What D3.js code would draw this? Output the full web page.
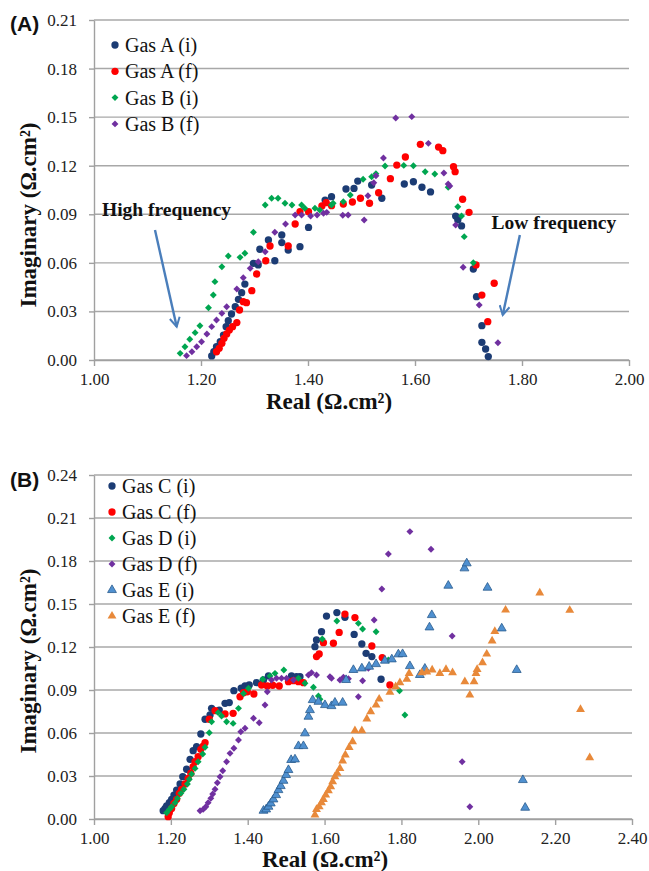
<!DOCTYPE html>
<html>
<head>
<meta charset="utf-8">
<script src="https://cdn.jsdelivr.net/npm/d3@7"></script>
<style>
  body { margin: 0; background: #fff; }
  svg { display: block; }
</style>
</head>
<body>
<svg id="chart" width="649" height="871"></svg>
<script>
// ---- data ----
// panel A
const xTicksA = [1.0, 1.2, 1.4, 1.6, 1.8, 2.0];
const yTicksA = [0, 0.03, 0.06, 0.09, 0.12, 0.15, 0.18, 0.21];

const gasAi = [[1.220,0.0025],[1.224,0.0051],[1.229,0.0082],[1.236,0.0113],[1.242,0.0154],[1.247,0.0206],[1.251,0.0243],[1.257,0.0284],[1.264,0.0329],[1.270,0.0375],[1.276,0.0416],[1.282,0.0469],[1.298,0.0597],[1.307,0.0587],[1.310,0.0684],[1.326,0.0741],[1.338,0.0613],[1.351,0.0772],[1.351,0.0725],[1.363,0.0679],[1.385,0.0700],[1.401,0.0819],[1.432,0.0988],[1.444,0.1009],[1.471,0.1056],[1.486,0.1060],[1.493,0.1105],[1.519,0.1081],[1.538,0.0999],[1.580,0.1087],[1.597,0.1101],[1.613,0.1067],[1.629,0.1038],[1.676,0.0889],[1.680,0.0865],[1.687,0.0828],[1.709,0.0562],[1.715,0.0391],[1.725,0.0212],[1.725,0.0109],[1.732,0.0068],[1.737,0.0021]];
const gasAf = [[1.229,0.0051],[1.234,0.0072],[1.239,0.0103],[1.243,0.0134],[1.248,0.0161],[1.253,0.0185],[1.259,0.0206],[1.267,0.0231],[1.272,0.0309],[1.279,0.0360],[1.285,0.0354],[1.295,0.0428],[1.304,0.0531],[1.321,0.0613],[1.329,0.0704],[1.363,0.0704],[1.376,0.0840],[1.385,0.0916],[1.401,0.0916],[1.426,0.0951],[1.434,0.0972],[1.444,0.0953],[1.466,0.0963],[1.483,0.0976],[1.498,0.0999],[1.515,0.0968],[1.532,0.1033],[1.554,0.1120],[1.566,0.1204],[1.582,0.1254],[1.610,0.1332],[1.644,0.1315],[1.652,0.1293],[1.672,0.1194],[1.675,0.1163],[1.689,0.0993],[1.701,0.0912],[1.714,0.0587],[1.725,0.0401],[1.748,0.0474],[1.736,0.0237]];
const gasBi = [[1.161,0.0041],[1.170,0.0082],[1.179,0.0128],[1.189,0.0169],[1.198,0.0212],[1.214,0.0323],[1.223,0.0401],[1.226,0.0484],[1.239,0.0576],[1.251,0.0642],[1.273,0.0634],[1.282,0.0659],[1.298,0.0789],[1.320,0.0957],[1.332,0.0999],[1.344,0.0999],[1.357,0.0968],[1.370,0.0957],[1.388,0.0957],[1.394,0.0937],[1.413,0.0937],[1.422,0.0926],[1.444,0.0957],[1.447,0.0968],[1.466,0.0978],[1.479,0.1019],[1.503,0.1116],[1.519,0.1132],[1.527,0.1151],[1.544,0.1198],[1.579,0.1202],[1.597,0.1200],[1.619,0.1163],[1.637,0.1149],[1.662,0.1067],[1.680,0.0947],[1.687,0.0889],[1.692,0.0762],[1.709,0.0601]];
const gasBf = [[1.173,0.0027],[1.183,0.0051],[1.192,0.0082],[1.201,0.0113],[1.211,0.0161],[1.220,0.0206],[1.229,0.0247],[1.239,0.0288],[1.248,0.0329],[1.267,0.0438],[1.279,0.0508],[1.292,0.0566],[1.307,0.0607],[1.320,0.0669],[1.338,0.0789],[1.358,0.0840],[1.376,0.0896],[1.388,0.0896],[1.405,0.0889],[1.417,0.0896],[1.429,0.0906],[1.435,0.0912],[1.465,0.0894],[1.475,0.0896],[1.505,0.0865],[1.512,0.1015],[1.523,0.1095],[1.527,0.1138],[1.541,0.1248],[1.564,0.1495],[1.594,0.1503],[1.625,0.1338],[1.654,0.1155],[1.662,0.1087],[1.665,0.1075],[1.676,0.0834],[1.690,0.0573],[1.720,0.0340],[1.755,0.0107]];

// panel B
const xTicksB = [1.0, 1.2, 1.4, 1.6, 1.8, 2.0, 2.2, 2.4];
const yTicksB = [0, 0.03, 0.06, 0.09, 0.12, 0.15, 0.18, 0.21, 0.24];

const gasCi = [[1.180,0.0058],[1.185,0.0074],[1.189,0.0091],[1.196,0.0114],[1.202,0.0137],[1.208,0.0167],[1.215,0.0202],[1.224,0.0244],[1.231,0.0295],[1.241,0.0347],[1.250,0.0416],[1.258,0.0477],[1.267,0.0505],[1.278,0.0593],[1.289,0.0696],[1.302,0.0726],[1.306,0.0772],[1.326,0.0760],[1.341,0.0807],[1.352,0.0812],[1.364,0.0895],[1.383,0.0912],[1.393,0.0928],[1.404,0.0935],[1.423,0.0951],[1.441,0.0970],[1.454,0.0998],[1.514,0.0998],[1.527,0.0993],[1.536,0.0993],[1.575,0.1202],[1.579,0.1249],[1.592,0.1307],[1.605,0.1416],[1.632,0.1440],[1.653,0.1407],[1.677,0.1288],[1.697,0.1221],[1.708,0.1156],[1.723,0.1133],[1.747,0.0975]];
const gasCf = [[1.193,0.0016],[1.196,0.0044],[1.202,0.0074],[1.208,0.0109],[1.215,0.0137],[1.222,0.0179],[1.228,0.0207],[1.237,0.0244],[1.245,0.0284],[1.252,0.0319],[1.258,0.0365],[1.263,0.0400],[1.271,0.0435],[1.278,0.0486],[1.284,0.0509],[1.289,0.0532],[1.300,0.0696],[1.315,0.0756],[1.341,0.0733],[1.362,0.0737],[1.380,0.0853],[1.389,0.0881],[1.399,0.0888],[1.416,0.0872],[1.436,0.0935],[1.451,0.0928],[1.465,0.0933],[1.482,0.0928],[1.506,0.0958],[1.519,0.0965],[1.532,0.0958],[1.545,0.0951],[1.579,0.1133],[1.586,0.1151],[1.597,0.1230],[1.623,0.1226],[1.638,0.1302],[1.653,0.1430],[1.679,0.1405],[1.723,0.1207],[1.750,0.1126],[1.770,0.0935]];
const gasDi = [[1.189,0.0044],[1.196,0.0067],[1.202,0.0086],[1.211,0.0114],[1.217,0.0144],[1.226,0.0179],[1.234,0.0207],[1.243,0.0244],[1.248,0.0277],[1.254,0.0314],[1.263,0.0353],[1.271,0.0400],[1.283,0.0454],[1.289,0.0500],[1.300,0.0602],[1.306,0.0679],[1.323,0.0742],[1.332,0.0719],[1.345,0.0679],[1.362,0.0667],[1.376,0.0772],[1.389,0.0876],[1.402,0.0912],[1.439,0.0975],[1.458,0.0998],[1.471,0.1016],[1.494,0.1040],[1.532,0.0982],[1.549,0.0947],[1.571,0.0919],[1.584,0.0858],[1.588,0.0835],[1.594,0.1256],[1.632,0.1381],[1.688,0.1365],[1.699,0.1326],[1.734,0.1307],[1.766,0.1109],[1.795,0.0895],[1.809,0.0726]];
const gasDf = [[1.276,0.0058],[1.284,0.0067],[1.291,0.0086],[1.297,0.0114],[1.304,0.0144],[1.309,0.0174],[1.315,0.0207],[1.321,0.0253],[1.328,0.0295],[1.335,0.0337],[1.345,0.0400],[1.354,0.0458],[1.364,0.0493],[1.376,0.0551],[1.382,0.0609],[1.393,0.0633],[1.415,0.0703],[1.430,0.0672],[1.445,0.0795],[1.451,0.0888],[1.462,0.0970],[1.475,0.0982],[1.488,0.0982],[1.501,0.0982],[1.519,0.0970],[1.558,0.1005],[1.566,0.1021],[1.579,0.1005],[1.614,0.0993],[1.618,0.0982],[1.640,0.0970],[1.649,0.0989],[1.662,0.0979],[1.688,0.0853],[1.699,0.0965],[1.714,0.1051],[1.729,0.1388],[1.749,0.1605],[1.766,0.1849],[1.822,0.2005],[1.877,0.1882],[1.932,0.1277],[1.958,0.0400],[1.978,0.0086]];
const gasEi = [[1.441,0.0058],[1.448,0.0067],[1.454,0.0086],[1.460,0.0109],[1.467,0.0137],[1.474,0.0167],[1.480,0.0202],[1.486,0.0230],[1.493,0.0267],[1.500,0.0307],[1.506,0.0342],[1.513,0.0412],[1.523,0.0416],[1.532,0.0509],[1.545,0.0509],[1.549,0.0598],[1.558,0.0714],[1.562,0.0760],[1.569,0.0830],[1.584,0.0818],[1.601,0.0795],[1.618,0.0788],[1.627,0.0812],[1.647,0.0812],[1.656,0.0970],[1.675,0.1040],[1.697,0.1051],[1.716,0.1063],[1.734,0.1081],[1.757,0.1105],[1.775,0.1114],[1.792,0.1149],[1.803,0.1151],[1.822,0.1067],[1.848,0.1005],[1.861,0.1049],[1.873,0.1337],[1.879,0.1423],[1.922,0.1628],[1.964,0.1749],[1.970,0.1784],[2.024,0.1614],[2.061,0.1330],[2.100,0.1040],[2.116,0.0272],[2.122,0.0079]];
const gasEf = [[1.575,0.0028],[1.579,0.0067],[1.586,0.0086],[1.592,0.0114],[1.597,0.0137],[1.603,0.0167],[1.610,0.0198],[1.616,0.0226],[1.621,0.0260],[1.627,0.0295],[1.633,0.0319],[1.640,0.0353],[1.647,0.0405],[1.654,0.0447],[1.664,0.0500],[1.673,0.0540],[1.679,0.0616],[1.697,0.0616],[1.710,0.0698],[1.720,0.0749],[1.734,0.0795],[1.742,0.0837],[1.770,0.0884],[1.785,0.0923],[1.796,0.0951],[1.814,0.0975],[1.820,0.1016],[1.853,0.1021],[1.866,0.1026],[1.880,0.1040],[1.900,0.1016],[1.916,0.1044],[1.933,0.1021],[1.965,0.0958],[1.978,0.0865],[1.989,0.0958],[1.994,0.1016],[1.997,0.1044],[2.011,0.1091],[2.022,0.1151],[2.036,0.1242],[2.043,0.1309],[2.071,0.1458],[2.160,0.1577],[2.238,0.1456],[2.266,0.0765],[2.290,0.0428]];

// annotation arrows of panel A, in data units: [x0, y0, x1, y1]
const highArrow = [1.114, 0.0803, 1.1546, 0.0206];
const lowArrow = [1.796, 0.0772, 1.764, 0.0278];

// ---- styles ----
const markers = {
  navy:   {shape: "circle",   fill: "#1c3c74", stroke: "none"},
  red:    {shape: "circle",   fill: "#ff0000", stroke: "none"},
  green:  {shape: "diamond",  fill: "#00a650", stroke: "none"},
  purple: {shape: "diamond",  fill: "#7030a0", stroke: "none"},
  blue:   {shape: "triangle", fill: "#4f90d0", stroke: "#2a5c8e"},
  orange: {shape: "triangle", fill: "#e8893a", stroke: "none"}
};

const serif = "'Liberation Serif', 'Times New Roman', serif";
const svg = d3.select("#chart");
svg.append("rect").attr("width", 649).attr("height", 871).attr("fill", "#fff");

svg.append("defs").append("marker")
  .attr("id", "openArrow")
  .attr("viewBox", "0 0 12 12")
  .attr("refX", 10).attr("refY", 6)
  .attr("markerWidth", 5).attr("markerHeight", 5)
  .attr("markerUnits", "strokeWidth")
  .attr("orient", "auto")
  .append("path")
  .attr("d", "M1,1 L10,6 L1,11")
  .attr("fill", "none")
  .attr("stroke", "#4a7ebb")
  .attr("stroke-width", 2);

function symbolPath(style) {
  if (style.shape === "circle") return d3.symbol(d3.symbolCircle, 42)();
  if (style.shape === "diamond") return d3.symbol(d3.symbolSquare, 24)();
  return d3.symbol(d3.symbolTriangle, 34)();
}

function placeMarker(sel, style, px, py) {
  const rot = style.shape === "diamond" ? " rotate(45)" : "";
  sel.attr("d", symbolPath(style))
    .attr("transform", `translate(${px},${py})${rot}`)
    .attr("fill", style.fill)
    .attr("stroke", style.stroke)
    .attr("stroke-width", style.stroke === "none" ? 0 : 0.8);
}

function drawPanel(p) {
  const x = d3.scaleLinear().domain(p.xDomain).range([94, p.right]);
  const y = d3.scaleLinear().domain(p.yDomain).range([p.bottom, p.top]);
  const g = svg.append("g");

  // horizontal gridlines
  g.selectAll(".grid").data(p.yTicks).join("line")
    .attr("x1", x.range()[0]).attr("x2", x.range()[1])
    .attr("y1", d => y(d)).attr("y2", d => y(d))
    .attr("stroke", "#a8a8a8").attr("stroke-width", 1.4);

  const yAxis = g.append("g").attr("transform", `translate(${x.range()[0]},0)`)
    .call(d3.axisLeft(y).tickValues(p.yTicks).tickFormat(d3.format(".2f")).tickSize(5).tickSizeOuter(0).tickPadding(12));
  const xAxis = g.append("g").attr("transform", `translate(0,${p.bottom})`)
    .call(d3.axisBottom(x).tickValues(p.xTicks).tickFormat(d3.format(".2f")).tickSize(6).tickSizeOuter(0).tickPadding(7));
  [yAxis, xAxis].forEach(a => {
    a.selectAll("path, line").attr("stroke", "#a0a0a0").attr("stroke-width", 1.4);
    a.selectAll("text").attr("font-family", serif).attr("font-size", 17).attr("fill", "#222");
  });

  // points, first series at the bottom
  p.series.forEach(s => {
    const st = markers[s.color];
    g.append("g").selectAll("path").data(s.values).join("path")
      .each(function(d) { placeMarker(d3.select(this), st, x(d[0]), y(d[1])); });
  });

  // legend
  p.series.forEach((s, i) => {
    const ly = p.legendY + i * p.legendStep;
    placeMarker(g.append("path"), markers[s.color], p.legendX, ly);
    g.append("text").attr("x", p.legendX + 10).attr("y", ly + 7)
      .attr("font-family", serif).attr("font-size", 20).attr("fill", "#111")
      .text(s.name);
  });

  // titles
  g.append("text").attr("x", p.xTitleX).attr("y", p.xTitleY)
    .attr("text-anchor", "middle").attr("font-family", serif)
    .attr("font-weight", "bold").attr("font-size", 23).attr("fill", "#111")
    .text("Real (Ω.cm²)");
  g.append("text")
    .attr("transform", `translate(36,${p.yTitleY}) rotate(-90)`)
    .attr("text-anchor", "middle").attr("font-family", serif)
    .attr("font-weight", "bold").attr("font-size", 23).attr("fill", "#111")
    .text("Imaginary (Ω.cm²)");
  g.append("text").attr("x", 10).attr("y", p.labelY)
    .attr("font-family", "'Liberation Sans', Arial, sans-serif")
    .attr("font-weight", "bold").attr("font-size", 21).attr("fill", "#111")
    .text(p.label);

  return {x, y, g};
}

const A = drawPanel({
  label: "(A)", labelY: 31,
  xDomain: [1, 2], yDomain: [0, 0.21], right: 629, top: 20, bottom: 360,
  xTicks: xTicksA, yTicks: yTicksA,
  legendX: 115, legendY: 45, legendStep: 26.3,
  xTitleX: 329, xTitleY: 409, yTitleY: 215,
  series: [
    {name: "Gas A (i)", color: "navy", values: gasAi},
    {name: "Gas A (f)", color: "red", values: gasAf},
    {name: "Gas B (i)", color: "green", values: gasBi},
    {name: "Gas B (f)", color: "purple", values: gasBf}
  ]
});

drawPanel({
  label: "(B)", labelY: 487,
  xDomain: [1, 2.4], yDomain: [0, 0.24], right: 632, top: 475, bottom: 819,
  xTicks: xTicksB, yTicks: yTicksB,
  legendX: 112, legendY: 486, legendStep: 26,
  xTitleX: 325, xTitleY: 867, yTitleY: 661,
  series: [
    {name: "Gas C (i)", color: "navy", values: gasCi},
    {name: "Gas C (f)", color: "red", values: gasCf},
    {name: "Gas D (i)", color: "green", values: gasDi},
    {name: "Gas D (f)", color: "purple", values: gasDf},
    {name: "Gas E (i)", color: "blue", values: gasEi},
    {name: "Gas E (f)", color: "orange", values: gasEf}
  ]
});

// frequency annotations in panel A
[[highArrow, "High frequency", 1.015, 0.089], [lowArrow, "Low frequency", 1.743, 0.081]].forEach(([a, label, tx, ty]) => {
  A.g.append("line")
    .attr("x1", A.x(a[0])).attr("y1", A.y(a[1]))
    .attr("x2", A.x(a[2])).attr("y2", A.y(a[3]))
    .attr("stroke", "#4a7ebb").attr("stroke-width", 2.4)
    .attr("marker-end", "url(#openArrow)");
  A.g.append("text").attr("x", A.x(tx)).attr("y", A.y(ty))
    .attr("font-family", serif).attr("font-weight", "bold")
    .attr("font-size", 19.5).attr("fill", "#111")
    .text(label);
});
</script>
</body>
</html>
